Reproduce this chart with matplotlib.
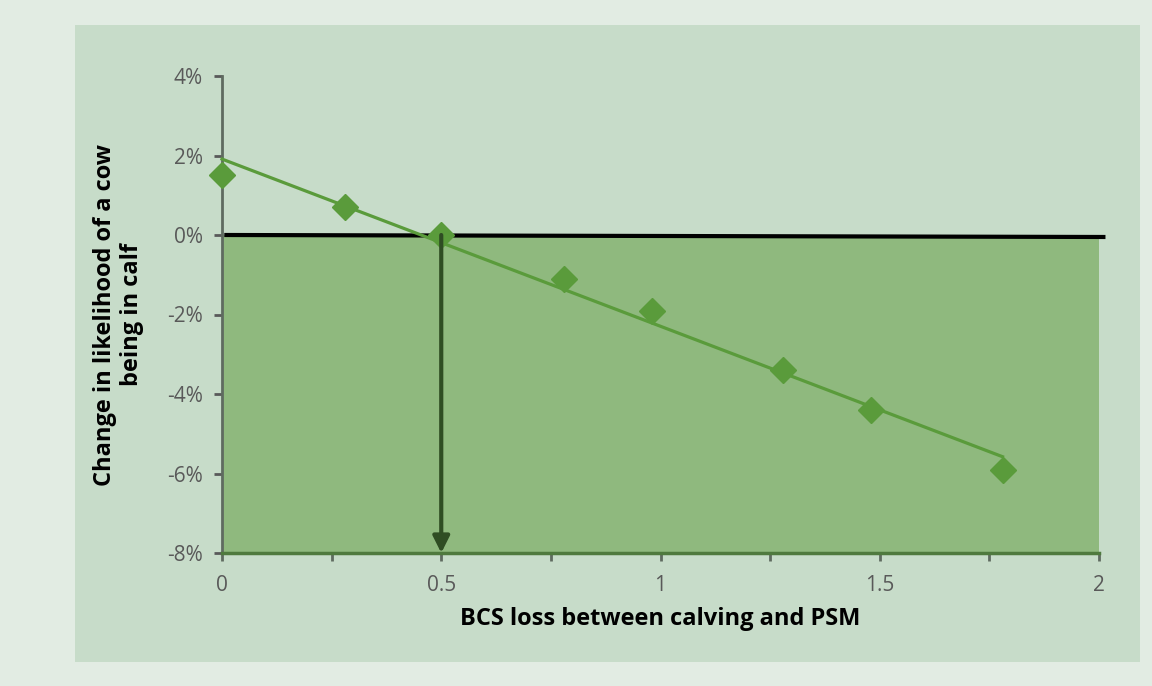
import numpy as np
import matplotlib
matplotlib.use("Agg")
import matplotlib.pyplot as plt
from matplotlib.patches import Rectangle

# BCS loss vs change in in-calf rate (%)
bcs_loss = [0, 0.28, 0.5, 0.78, 0.98, 1.28, 1.48, 1.78]
change_pct = [1.5, 0.7, 0.0, -1.1, -1.9, -3.4, -4.4, -5.9]
x_ticks = [0, 0.5, 1, 1.5, 2]
y_ticks = [-8, -6, -4, -2, 0, 2, 4]
target_loss = 0.5

plt.rcParams['font.family'] = ['Open Sans', 'DejaVu Sans']

fig = plt.figure(figsize=(11.52, 6.86), dpi=100)
fig.patch.set_facecolor('#e2ece3')
# inner panel behind the chart
fig.patches.append(Rectangle((75 / 1152, 1 - 662 / 686), 1065 / 1152, 637 / 686,
                             transform=fig.transFigure, facecolor='#c7dcc9',
                             edgecolor='none', zorder=0))

ax = fig.add_axes([222 / 1152, 1 - 553 / 686, 877 / 1152, 477 / 686])
ax.set_zorder(1)
ax.set_facecolor('none')
ax.set_xlim(0, 2)
ax.set_ylim(-8, 4)

# shaded "loss" zone below zero
ax.fill_between([0, 2], 0, -8, color='#8fb97e', zorder=1, lw=0)
ax.plot([0.01, 2.01], [0, -0.05], color='black', lw=3, zorder=3, clip_on=False)

# linear trend
coef = np.polyfit(bcs_loss, change_pct, 1)
xs = np.array([0, bcs_loss[-1]])
ax.plot(xs, np.polyval(coef, xs), color='#5a9b3b', lw=2.3, zorder=4, clip_on=False)
ax.plot(bcs_loss, change_pct, ls='none', marker='D', ms=13, color='#5a9b3b',
        zorder=5, clip_on=False)

ax.annotate('', xy=(target_loss, -8), xytext=(target_loss, 0),
            arrowprops=dict(arrowstyle='-|>', color='#2f4d23', lw=3,
                            mutation_scale=25, shrinkA=0, shrinkB=0),
            zorder=6)

for s in ['top', 'right']:
    ax.spines[s].set_visible(False)
ax.spines['left'].set_color('#5f6b60')
ax.spines['left'].set_linewidth(2)
ax.spines['bottom'].set_color('#4f7a3e')
ax.spines['bottom'].set_linewidth(2.5)

ax.set_xticks(np.arange(0, 2.01, 0.25), minor=True)
ax.set_xticks(x_ticks)
ax.set_xticklabels([f'{t:g}' for t in x_ticks])
ax.set_yticks(y_ticks)
ax.set_yticklabels([f'{t}%' for t in y_ticks])
ax.tick_params(axis='both', colors='#595959', labelsize=15, width=2, length=6)
ax.tick_params(axis='x', which='both', length=6, width=2, color='#5f6b60', pad=10)
ax.tick_params(axis='y', pad=8)

ax.set_xlabel('BCS loss between calving and PSM', fontsize=17, fontweight='bold',
              labelpad=8)
ax.set_ylabel('Change in likelihood of a cow\nbeing in calf', fontsize=17,
              fontweight='bold', labelpad=16)

fig.savefig('out.png', dpi=100, facecolor=fig.get_facecolor())
